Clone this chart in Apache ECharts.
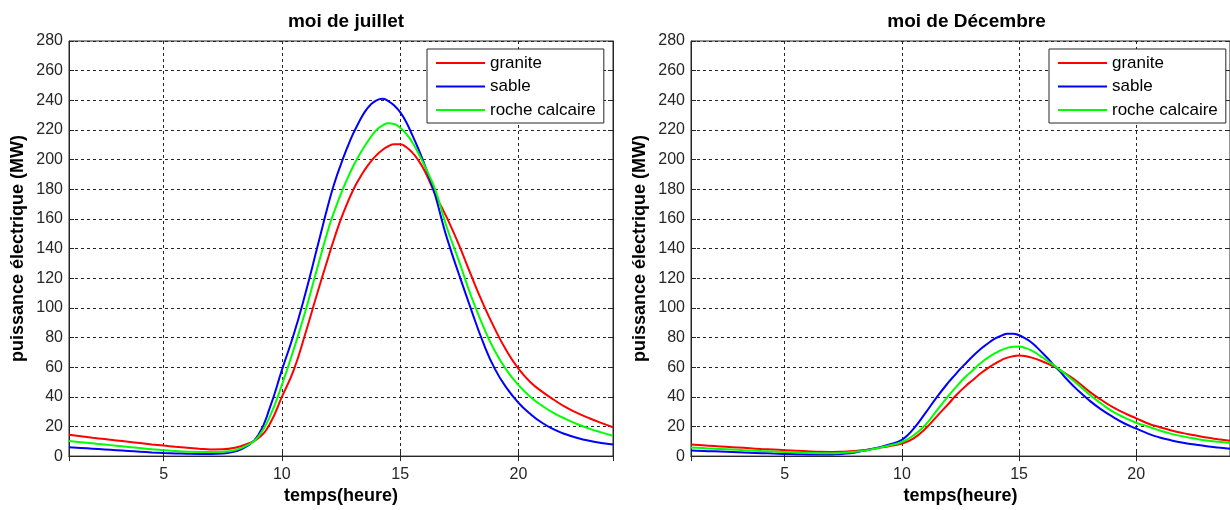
<!DOCTYPE html>
<html>
<head>
<meta charset="utf-8">
<script src="https://cdn.jsdelivr.net/npm/echarts@6/dist/echarts.min.js"></script>
<style>
  html, body { margin: 0; padding: 0; background: #fff; }
  #chart { width: 1230px; height: 510px; }
</style>
</head>
<body>
<div id="chart"></div>
<script>
// Heure de la journée (h) : pas d'une demi-heure, d'un quart d'heure autour du maximum
const hours = [1, 1.5, 2, 2.5, 3, 3.5, 4, 4.5, 5, 5.5, 6, 6.5, 7, 7.5, 8, 8.5, 9, 9.5, 10, 10.5, 11, 11.5,
  12, 12.25, 12.5, 12.75, 13, 13.25, 13.5, 13.75, 14, 14.25, 14.5, 14.75, 15, 15.25, 15.5, 15.75, 16, 16.25, 16.5, 16.75, 17,
  17.5, 18, 18.5, 19, 19.5, 20, 20.5, 21, 21.5, 22, 22.5, 23, 23.5, 24];

const seriesNames = ['granite', 'sable', 'roche calcaire'];
const seriesColors = ['#ff0000', '#0000ff', '#00ff00'];

// Puissance électrique (MW) — mois de juillet
const julyGranite = [14.4, 13.4, 12.4, 11.5, 10.6, 9.7, 8.8, 7.9, 7.1, 6.3, 5.6, 5.0, 4.5, 4.6, 5.6, 8.0, 12, 22, 40, 58, 83, 110,
  136, 148.5, 160, 170, 179, 186.5, 193, 198.5, 203, 206.5, 209, 210.3, 210.3, 208.5, 205, 200, 193.5, 185, 176, 168, 160,
  142, 122, 103, 86, 71, 59, 50, 43.5, 38, 33, 29, 25.5, 22.4, 19.5];
const julySable = [6.0, 5.5, 5.0, 4.5, 4.0, 3.5, 3.0, 2.5, 2.1, 1.8, 1.6, 1.5, 1.5, 1.8, 3.0, 6.5, 14, 33, 58, 82, 110, 141,
  172, 185.5, 197, 207.5, 217, 225, 232, 237, 240, 241, 239.5, 236.5, 232, 225.5, 217, 208, 198, 187, 175, 160, 146,
  122, 99, 77, 59, 46, 36, 28.5, 22.5, 18, 14.7, 12.2, 10.3, 8.9, 7.8];
const julyCalcaire = [10.2, 9.4, 8.6, 7.8, 7.0, 6.2, 5.4, 4.6, 3.9, 3.4, 3.0, 2.8, 2.8, 3.0, 4.0, 7.0, 13, 27, 48, 72, 98, 127,
  155, 166.5, 177, 186.5, 195, 202.5, 209, 215, 220, 223, 224.5, 224, 221.5, 217.5, 212, 205, 197, 188.5, 179, 166, 153,
  131, 108, 88, 71, 58, 48, 40, 34, 29, 25, 21.5, 18.5, 16, 13.7];

// Puissance électrique (MW) — mois de décembre
const decGranite = [7.8, 7.3, 6.8, 6.3, 5.8, 5.3, 4.8, 4.4, 4.0, 3.6, 3.2, 2.9, 2.8, 3.0, 3.4, 4.3, 5.5, 6.8, 8.5, 12, 18.5, 27,
  35.5, 40, 44, 47.7, 51, 54.4, 57.5, 60.2, 62.6, 64.8, 66.4, 67.4, 67.8, 67.5, 66.6, 65.4, 63.8, 62.2, 60.3, 58, 55.5,
  50, 43.5, 38, 33, 29, 25.5, 22, 19.5, 17.3, 15.5, 14, 12.5, 11.4, 10.4];
const decSable = [3.8, 3.5, 3.2, 2.9, 2.6, 2.3, 2.0, 1.7, 1.5, 1.3, 1.1, 1.0, 1.1, 1.6, 2.5, 4.0, 5.8, 8, 11, 18.5, 29, 40,
  50, 54.5, 59, 63, 67, 70.7, 74, 77, 79.5, 81.3, 82.5, 82.6, 81.5, 79.5, 77, 73.5, 69.5, 65.5, 61, 57, 52.5,
  44.5, 37.5, 31.5, 26.5, 22, 18.5, 15.2, 12.6, 10.6, 9, 7.8, 6.7, 5.8, 5];
const decCalcaire = [5.8, 5.4, 5.0, 4.6, 4.2, 3.8, 3.4, 3.1, 2.8, 2.5, 2.2, 2.0, 2.0, 2.3, 2.9, 4.0, 5.5, 7.3, 9.5, 14, 21, 31,
  41, 45.5, 50, 54, 57.5, 61.2, 64.5, 67.3, 69.6, 71.6, 73, 73.8, 73.9, 73, 71.5, 69.2, 66.5, 63.8, 61, 58, 55,
  48.5, 41.5, 35.5, 30, 26, 22.5, 20, 17.3, 15, 13.3, 11.8, 10.5, 9.6, 8.9];

const panelTitles = ['moi de juillet', 'moi de Décembre'];
const xLabel = 'temps(heure)';
const yLabel = 'puissance électrique (MW)';

const panels = [
  [julyGranite, julySable, julyCalcaire],
  [decGranite, decSable, decCalcaire]
];

const FONT = '"Liberation Sans", Arial, Helvetica, sans-serif';
const INK = '#262626';

const grids = [
  { left: 69, top: 41, width: 544, height: 421 },
  { left: 691, top: 41, width: 541, height: 421 }
];

const xAxes = [];
const yAxes = [];
const series = [];
const legends = [];
const titles = [];

grids.forEach(function (g, i) {
  // main bottom / left axes
  xAxes.push({
    type: 'value', gridIndex: i, position: 'bottom', min: 1, max: 24, splitNumber: 5,
    name: xLabel, nameLocation: 'middle', nameGap: 28,
    nameTextStyle: { fontFamily: FONT, fontSize: 18, fontWeight: 'bold', color: '#000' },
    axisLine: { show: true, onZero: false, lineStyle: { color: INK, width: 1 } },
    axisTick: { show: true, inside: true, length: 5, lineStyle: { color: INK } },
    axisLabel: {
      fontFamily: FONT, fontSize: 16, color: INK, margin: 10,
      showMinLabel: false, showMaxLabel: false,
      formatter: function (v) { return v % 5 === 0 ? String(v) : ''; }
    },
    splitLine: { show: true, lineStyle: { color: INK, width: 1, type: [3, 3] } }
  });
  yAxes.push({
    type: 'value', gridIndex: i, position: 'left', min: 0, max: 280, interval: 20,
    name: yLabel, nameLocation: 'middle', nameGap: 42, nameRotate: 90,
    nameTextStyle: { fontFamily: FONT, fontSize: 18, fontWeight: 'bold', color: '#000' },
    axisLine: { show: true, lineStyle: { color: INK, width: 1 } },
    axisTick: { show: true, inside: true, length: 5, lineStyle: { color: INK } },
    axisLabel: { fontFamily: FONT, fontSize: 16, color: INK, margin: 6 },
    splitLine: { show: true, lineStyle: { color: INK, width: 1, type: [3, 3] } }
  });
  // top / right axes carrying the box ticks
  xAxes.push({
    type: 'value', gridIndex: i, position: 'top', min: 1, max: 24, splitNumber: 5,
    axisLine: { show: true, lineStyle: { color: INK, width: 1 } },
    axisTick: { show: true, inside: true, length: 5, lineStyle: { color: INK } },
    axisLabel: { show: false }, splitLine: { show: false }
  });
  yAxes.push({
    type: 'value', gridIndex: i, position: 'right', min: 0, max: 280, interval: 20,
    axisLine: { show: true, lineStyle: { color: INK, width: 1 } },
    axisTick: { show: true, inside: true, length: 5, lineStyle: { color: INK } },
    axisLabel: { show: false }, splitLine: { show: false }
  });

  panels[i].forEach(function (vals, k) {
    series.push({
      name: seriesNames[k], type: 'line',
      xAxisIndex: i * 2, yAxisIndex: i * 2,
      data: hours.map(function (h, j) { return [h, vals[j]]; }),
      smooth: 0.5, symbol: 'none', clip: true,
      lineStyle: { color: seriesColors[k], width: 2 },
      itemStyle: { color: seriesColors[k] },
      z: 3 + k
    });
  });

  legends.push({
    data: seriesNames, orient: 'vertical',
    left: i === 0 ? 427 : 1049, top: 49,
    icon: 'rect', itemWidth: 49, itemHeight: 2, itemGap: 5.5,
    padding: [5, 8, 4, 9],
    backgroundColor: '#fff', borderColor: INK, borderWidth: 1,
    textStyle: { fontFamily: FONT, fontSize: 17, color: '#000', lineHeight: 18 },
    selectedMode: false
  });

  titles.push({
    text: panelTitles[i],
    left: g.left + g.width / 2, top: 7, textAlign: 'center',
    textStyle: { fontFamily: FONT, fontSize: 19, fontWeight: 'bold', color: '#000' }
  });
});

const chart = echarts.init(document.getElementById('chart'), null, { renderer: 'canvas' });
chart.setOption({
  backgroundColor: '#fff',
  animation: false,
  title: titles,
  legend: legends,
  grid: grids.map(function (g) {
    return Object.assign({ show: true, borderColor: INK, borderWidth: 1, backgroundColor: '#fff', containLabel: false }, g);
  }),
  xAxis: xAxes,
  yAxis: yAxes,
  series: series
});
</script>
</body>
</html>
